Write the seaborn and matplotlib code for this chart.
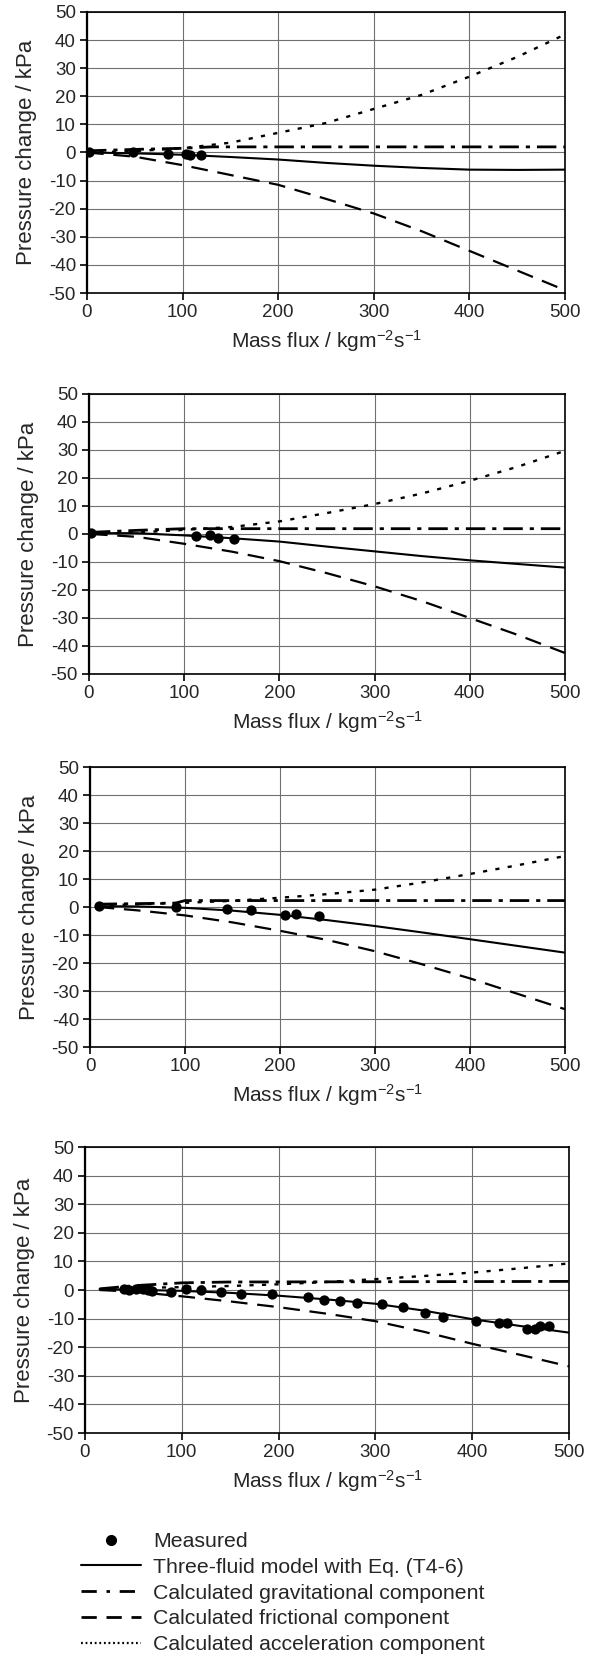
import matplotlib
matplotlib.use("Agg")
import matplotlib.pyplot as plt
from matplotlib.lines import Line2D
import seaborn as sns

# ---- data (x: mass flux, y: pressure change / kPa) ----
grid_x = [0, 50, 100, 150, 200, 250, 300, 350, 400, 450, 500]

# panel 1
p1_meas_x = [2, 48, 85, 104, 108, 119]
p1_meas_y = [0.0, 0.0, -0.4, -0.5, -1.0, -1.0]
p1_model = [0.0, -0.3, -0.8, -1.6, -2.5, -3.7, -4.7, -5.5, -6.1, -6.2, -6.1]
p1_fric = [0.0, -1.5, -4.5, -8.0, -11.5, -16.5, -21.7, -28.0, -35.0, -42.0, -49.0]
p1_accel = [0.0, 0.5, 1.5, 3.5, 7.0, 10.5, 15.5, 20.5, 27.0, 34.0, 42.0]
p1_grav_x = [0, 50, 100, 130, 500]
p1_grav_y = [0.6, 1.1, 1.5, 2.0, 2.0]

# panel 2
p2_x = [2, 50, 100, 150, 200, 250, 300, 350, 400, 450, 500]
p2_meas_x = [2, 112, 127, 136, 152]
p2_meas_y = [0.4, -0.8, -0.2, -1.5, -1.7]
p2_model = [0.3, 0.3, -0.5, -1.5, -2.7, -4.5, -6.2, -7.9, -9.4, -10.7, -12.0]
p2_fric = [0.0, -1.0, -3.5, -6.3, -9.7, -14.0, -18.7, -24.0, -30.0, -36.0, -42.5]
p2_accel = [0.0, 0.5, 1.5, 2.5, 4.5, 7.5, 10.7, 14.5, 19.0, 24.0, 29.7]
p2_grav_x = [2, 50, 100, 500]
p2_grav_y = [0.6, 1.3, 1.9, 1.9]

# panel 3
p3_x = [8, 50, 100, 150, 200, 250, 300, 350, 400, 450, 500]
p3_meas_x = [9, 91, 144, 169, 205, 217, 241]
p3_meas_y = [0.2, 0.0, -0.7, -1.2, -2.9, -2.6, -3.3]
p3_model = [0.3, 0.2, -0.3, -1.3, -2.8, -4.7, -6.8, -9.1, -11.5, -13.9, -16.3]
p3_fric = [0.0, -1.2, -3.0, -5.5, -8.5, -11.8, -15.8, -20.5, -25.5, -31.0, -36.5]
p3_accel = [0.5, 1.0, 1.5, 2.2, 3.3, 4.6, 6.2, 8.8, 11.8, 14.9, 18.2]
p3_grav_x = [8, 90, 100, 500]
p3_grav_y = [1.0, 1.4, 2.3, 2.3]

# panel 4
p4_x = [15, 50, 100, 150, 200, 250, 300, 350, 400, 450, 500]
p4_meas_x = [40, 45, 53, 60, 65, 69, 89, 104, 120, 140, 161, 193, 230, 247,
             263, 281, 307, 328, 351, 370, 404, 428, 436, 457, 465, 470, 479]
p4_meas_y = [0.3, 0.1, 0.3, 0.2, 0.0, -0.2, -0.7, 0.2, -0.1, -0.7, -1.3, -1.4,
             -2.6, -3.5, -3.9, -4.6, -4.9, -6.0, -8.1, -9.5, -10.8, -11.5,
             -11.5, -13.7, -13.7, -12.6, -12.6]
p4_model = [0.3, 0.1, -0.3, -1.0, -2.0, -3.3, -4.8, -7.2, -10.2, -12.6, -14.9]
p4_fric = [0.0, -0.6, -2.2, -4.0, -6.0, -8.3, -10.9, -14.6, -18.8, -22.7, -26.7]
p4_accel = [0.3, 0.7, 1.0, 1.4, 2.0, 2.8, 3.8, 4.9, 6.1, 7.6, 9.3]
p4_grav_x = [15, 50, 100, 150, 500]
p4_grav_y = [0.4, 1.5, 2.5, 2.8, 3.0]

legend_labels = ["Measured", "Three-fluid model with Eq. (T4-6)",
                 "Calculated gravitational component",
                 "Calculated frictional component",
                 "Calculated acceleration component"]

# ---- style ----
sns.set_style("white")
plt.rcParams['font.family'] = ['Liberation Sans', 'DejaVu Sans']
plt.rcParams['mathtext.fontset'] = 'custom'
plt.rcParams['mathtext.rm'] = 'Liberation Sans'
plt.rcParams['mathtext.default'] = 'regular'
plt.rcParams['axes.unicode_minus'] = False
plt.rcParams['lines.scale_dashes'] = False

SOLID = '-'
GRAV = (0, (14, 5, 3, 5))
FRIC = (0, (12, 7))
ACCEL = (0, (3, 6))

panels = [
    (grid_x, p1_meas_x, p1_meas_y, p1_model, p1_fric, p1_accel, p1_grav_x, p1_grav_y),
    (p2_x, p2_meas_x, p2_meas_y, p2_model, p2_fric, p2_accel, p2_grav_x, p2_grav_y),
    (p3_x, p3_meas_x, p3_meas_y, p3_model, p3_fric, p3_accel, p3_grav_x, p3_grav_y),
    (p4_x, p4_meas_x, p4_meas_y, p4_model, p4_fric, p4_accel, p4_grav_x, p4_grav_y),
]

# axes boxes in pixels: left, right, top, bottom (figure is 600 x 1660)
boxes = [(87, 565, 12, 293), (89, 565, 394, 674), (90, 565, 767, 1047), (85, 569, 1147, 1433)]

fig = plt.figure(figsize=(6, 16.6), dpi=100)
W, H = 600.0, 1660.0

for (xs, mx, my, model, fric, accel, gx, gy), (l, r, t, b) in zip(panels, boxes):
    ax = fig.add_axes([l / W, (H - b) / H, (r - l) / W, (b - t) / H])
    sns.lineplot(x=xs, y=accel, ax=ax, color='black', lw=1.7, linestyle=ACCEL)
    sns.lineplot(x=xs, y=fric, ax=ax, color='black', lw=1.6, linestyle=FRIC)
    sns.lineplot(x=gx, y=gy, ax=ax, color='black', lw=2.0, linestyle=GRAV)
    sns.lineplot(x=xs, y=model, ax=ax, color='black', lw=1.5, linestyle=SOLID)
    sns.scatterplot(x=mx, y=my, ax=ax, color='black', s=55, linewidth=0, zorder=5)

    ax.set_xlim(0, 500)
    ax.set_ylim(-50, 50)
    ax.set_xticks(range(0, 501, 100))
    ax.set_yticks(range(-50, 51, 10))
    ax.grid(True, color='#707070', lw=0.8)
    ax.set_axisbelow(True)
    for side in ['top', 'right', 'bottom']:
        ax.spines[side].set_color('black')
        ax.spines[side].set_linewidth(1.2)
    ax.spines['left'].set_color('black')
    ax.spines['left'].set_linewidth(1.6)
    ax.tick_params(direction='out', length=5, width=1.2, color='black',
                   labelsize=13.5, left=True, bottom=True, pad=3)
    ax.set_xlabel('Mass flux / kgm$^{-2}$s$^{-1}$', fontsize=15, labelpad=5)
    ax.set_ylabel('Pressure change / kPa', fontsize=16, labelpad=8)

# legend with proxy handles
handles = [
    Line2D([], [], color='black', marker='o', markersize=7, linestyle='None'),
    Line2D([], [], color='black', lw=1.5, linestyle=SOLID),
    Line2D([], [], color='black', lw=2.0, linestyle=(0, (11, 7, 2.5, 7))),
    Line2D([], [], color='black', lw=2.0, linestyle=(0, (11, 7))),
    Line2D([], [], color='black', lw=1.6, linestyle=(0, (1.3, 2.0))),
]
fig.legend(handles, legend_labels, loc='upper left',
           bbox_to_anchor=(81 / W, (H - 1532) / H), frameon=False,
           fontsize=15.3, handlelength=2.8, handletextpad=0.6,
           labelspacing=0.32, borderpad=0, borderaxespad=0)

fig.savefig('out.png', dpi=100)
